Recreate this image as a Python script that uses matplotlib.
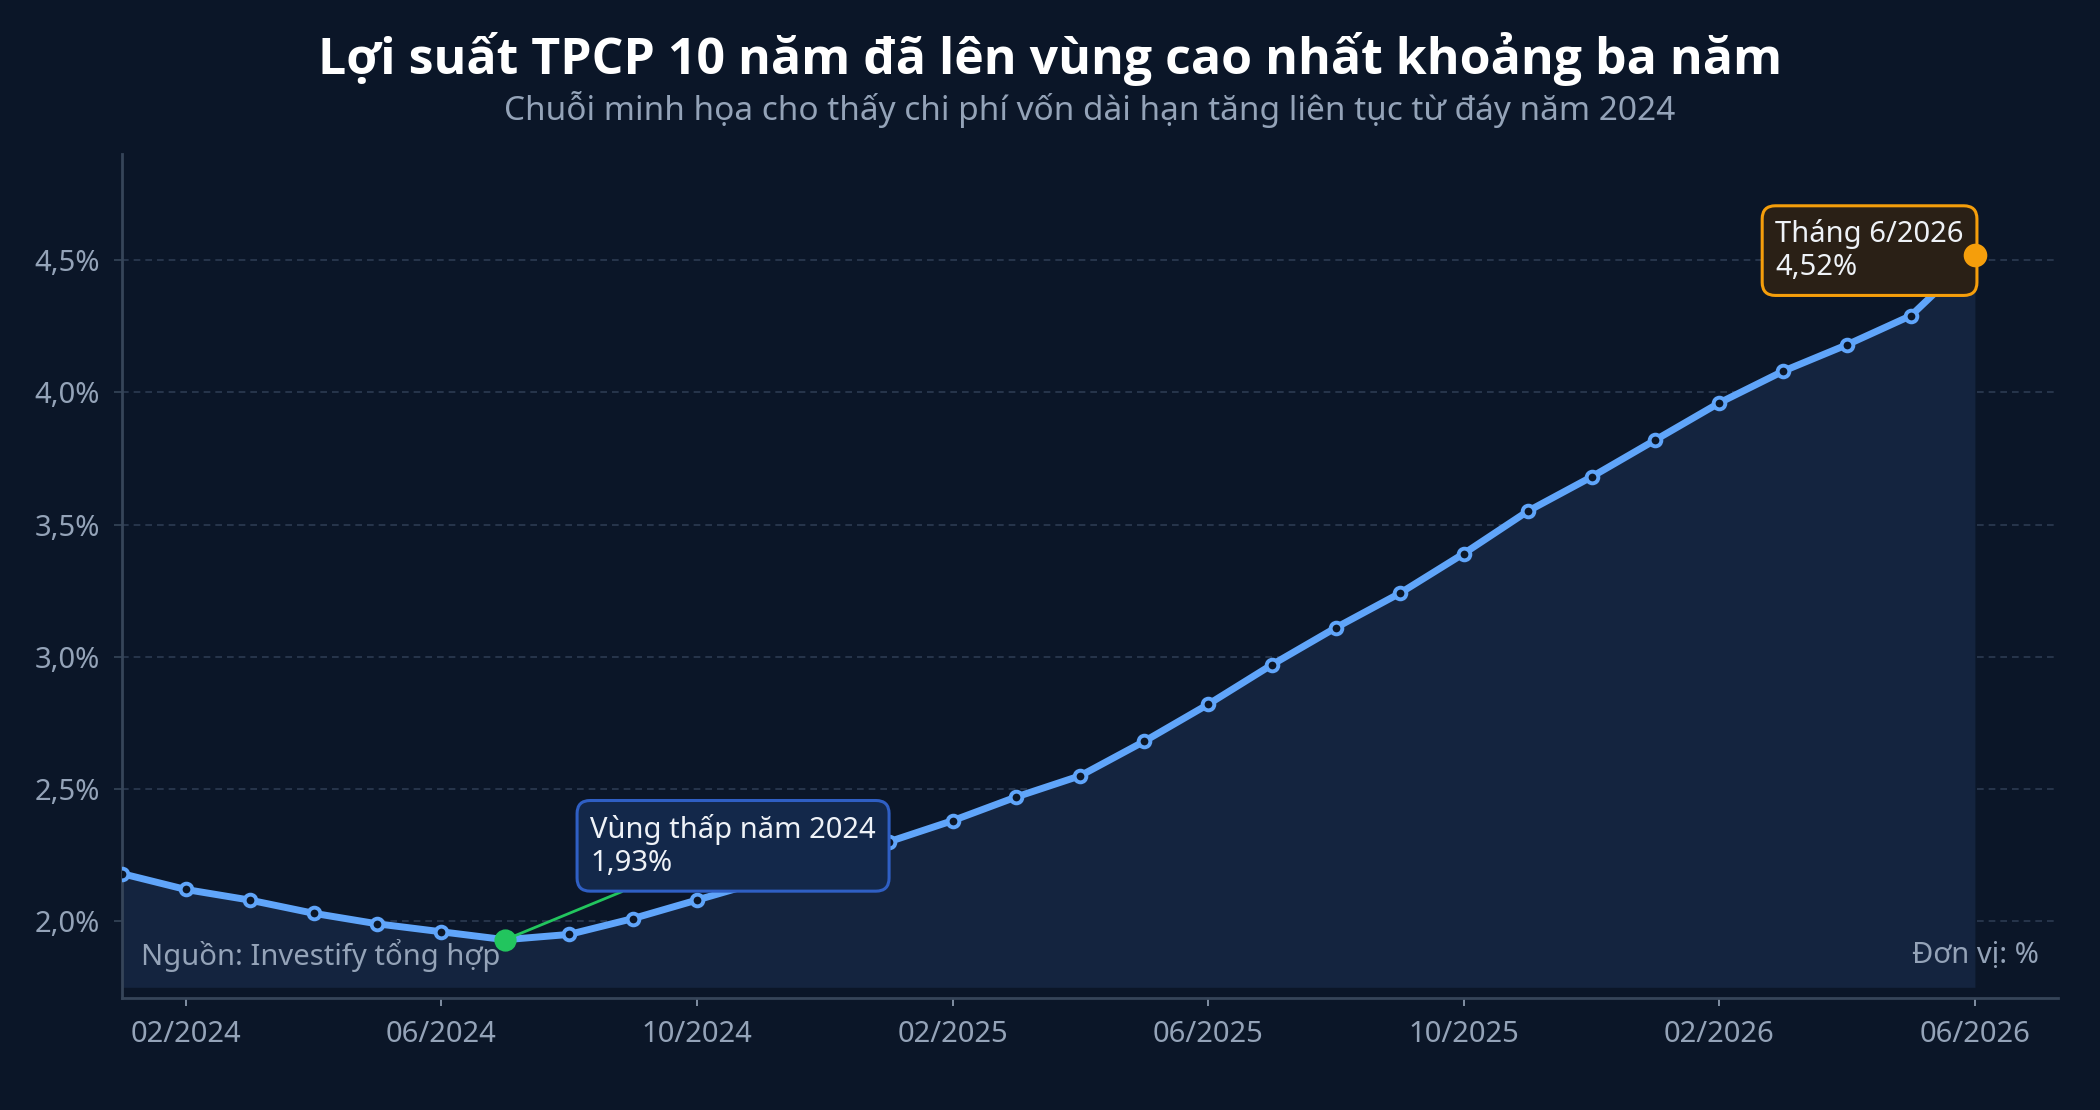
import numpy as np
import matplotlib.pyplot as plt

plt.rcParams['font.family'] = ['Noto Sans', 'DejaVu Sans']

# Data: 10-year government bond yield (%), monthly 01/2024 - 06/2026
months = ['01/2024', '02/2024', '03/2024', '04/2024', '05/2024', '06/2024',
          '07/2024', '08/2024', '09/2024', '10/2024', '11/2024', '12/2024',
          '01/2025', '02/2025', '03/2025', '04/2025', '05/2025', '06/2025',
          '07/2025', '08/2025', '09/2025', '10/2025', '11/2025', '12/2025',
          '01/2026', '02/2026', '03/2026', '04/2026', '05/2026', '06/2026']
yields = [2.18, 2.12, 2.08, 2.03, 1.99, 1.96,
          1.93, 1.95, 2.01, 2.08, 2.15, 2.22,
          2.30, 2.38, 2.47, 2.55, 2.68, 2.82,
          2.97, 3.11, 3.24, 3.39, 3.55, 3.68,
          3.82, 3.96, 4.08, 4.18, 4.29, 4.52]
tick_months = ['02/2024', '06/2024', '10/2024', '02/2025',
               '06/2025', '10/2025', '02/2026', '06/2026']
y_ticks = [2.0, 2.5, 3.0, 3.5, 4.0, 4.5]

low_label = 'Vùng thấp năm 2024\n1,93%'
last_label = 'Tháng 6/2026\n4,52%'

# colors
bg = '#0b1628'
fill_c = '#14243f'
line_c = '#60a5fa'
muted = '#94a3b8'
grid_c = '#2c3b52'
spine_c = '#364559'

x = np.arange(len(months))
y = np.array(yields)
i_low = int(np.argmin(y))
i_last = len(y) - 1

fig = plt.figure(figsize=(10.5, 5.55), dpi=200, facecolor=bg)
ax = fig.add_axes([0.058, 0.101, 0.922, 0.760])
ax.set_facecolor(bg)

ax.fill_between(x, y, 1.75, color=fill_c, zorder=1, linewidth=0)
ax.plot(x, y, color=line_c, lw=2.5, zorder=3, solid_capstyle='round')
ax.plot(x, y, 'o', ms=4.2, mfc=bg, mec=line_c, mew=1.4, zorder=3)

# highlighted points
ax.plot(x[i_low], y[i_low], 'o', ms=7, color='#22c55e', zorder=6)
ax.plot(x[i_last], y[i_last], 'o', ms=7.5, color='#f59e0b', zorder=6)

ax.annotate(low_label, xy=(x[i_low], y[i_low]), xytext=(7.33, 2.285),
            ha='left', va='center', fontsize=10.5, color='#eef2f7',
            bbox=dict(boxstyle='round,pad=0.45', fc='#13284a', ec='#2f5fc4', lw=1.1),
            arrowprops=dict(arrowstyle='-', color='#22c55e', lw=1.0, shrinkA=0, shrinkB=0),
            zorder=5)

ax.annotate(last_label, xy=(x[i_last], y[i_last]), xytext=(-4, 1.5),
            textcoords='offset points', ha='right', va='center',
            multialignment='left', fontsize=10.5, color='#eef2f7',
            bbox=dict(boxstyle='round,pad=0.45', fc='#2a2016', ec='#f59e0b', lw=1.1),
            zorder=5)

ax.set_xlim(0, 30.3)
ax.set_ylim(1.71, 4.90)

ax.set_xticks([months.index(m) for m in tick_months])
ax.set_xticklabels(tick_months)
ax.set_yticks(y_ticks)
ax.set_yticklabels([f'{v:.1f}%'.replace('.', ',') for v in y_ticks])
ax.tick_params(colors=muted, labelsize=10.5, length=3, width=0.6, color=muted, pad=5)
ax.tick_params(axis='y', colors=muted, color=spine_c)

ax.grid(axis='y', color=grid_c, lw=0.6, ls=(0, (4, 3)), zorder=0)
ax.set_axisbelow(True)

for s in ['top', 'right']:
    ax.spines[s].set_visible(False)
for s in ['left', 'bottom']:
    ax.spines[s].set_color(spine_c)
    ax.spines[s].set_linewidth(1.0)

ax.text(0.01, 0.05, 'Nguồn: Investify tổng hợp', transform=ax.transAxes,
        ha='left', va='center', fontsize=10.5, color=muted, zorder=7)
ax.text(0.99, 0.05, 'Đơn vị: %', transform=ax.transAxes,
        ha='right', va='center', fontsize=10.5, color=muted, zorder=7)

fig.text(0.5, 0.947, 'Lợi suất TPCP 10 năm đã lên vùng cao nhất khoảng ba năm',
         ha='center', va='center', fontsize=18, fontweight='bold', color='white',
         family=['Open Sans', 'Noto Sans', 'DejaVu Sans'])
fig.text(0.519, 0.901, 'Chuỗi minh họa cho thấy chi phí vốn dài hạn tăng liên tục từ đáy năm 2024',
         ha='center', va='center', fontsize=12, color=muted)

fig.savefig('out.png', dpi=200, facecolor=bg)
